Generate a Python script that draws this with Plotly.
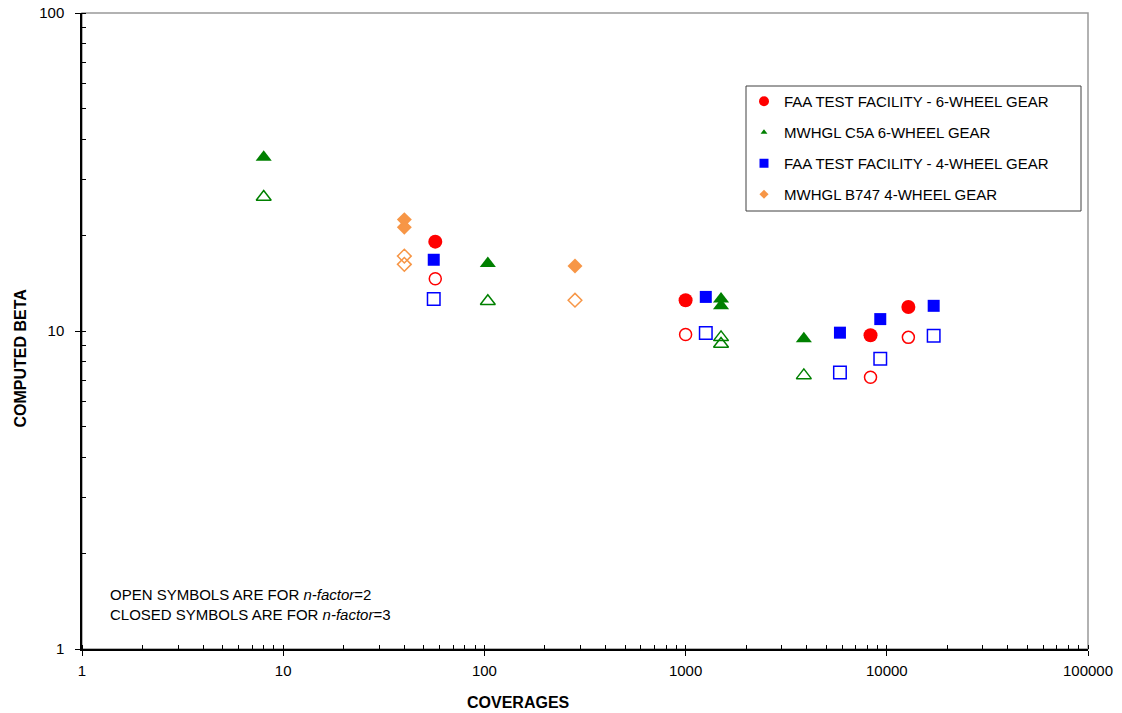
import plotly.graph_objects as go

# ---------------- data ----------------
# FAA Test Facility - 6-wheel gear
faa6_x_closed = [57, 1000, 8300, 12800]
faa6_y_closed = [19.1, 12.5, 9.7, 11.9]
faa6_x_open = [57, 1000, 8300, 12800]
faa6_y_open = [14.6, 9.75, 7.15, 9.55]

# MWHGL C5A 6-wheel gear
c5a_x_closed = [8, 104, 1500, 1500, 3870]
c5a_y_closed = [35.2, 16.3, 12.6, 12.0, 9.45]
c5a_x_open = [8, 104, 1500, 1500, 3870]
c5a_y_open = [26.4, 12.4, 9.55, 9.1, 7.25]

# FAA Test Facility - 4-wheel gear
faa4_x_closed = [56, 1260, 5850, 9280, 17100]
faa4_y_closed = [16.75, 12.8, 9.88, 10.9, 12.0]
faa4_x_open = [56, 1260, 5850, 9280, 17100]
faa4_y_open = [12.6, 9.85, 7.4, 8.18, 9.66]

# MWHGL B747 4-wheel gear
b747_x_closed = [40, 40, 282]
b747_y_closed = [22.4, 21.2, 16.0]
b747_x_open = [40, 40, 282]
b747_y_open = [17.2, 16.2, 12.5]

legend_names = [
    "FAA TEST FACILITY - 6-WHEEL GEAR",
    "MWHGL C5A 6-WHEEL GEAR",
    "FAA TEST FACILITY - 4-WHEEL GEAR",
    "MWHGL B747 4-WHEEL GEAR",
]

x_tickvals = [1, 10, 100, 1000, 10000, 100000]
x_ticktext = ["1", "10", "100", "1000", "10000", "100000"]
y_tickvals = [1, 10, 100]
y_ticktext = ["1", "10", "100"]

RED = "#FF0000"
GREEN = "#008000"
BLUE = "#0000FF"
ORANGE = "#F79646"

fig = go.Figure()

def add_pair(xc, yc, xo, yo, sym, color, size_c, size_o):
    fig.add_trace(go.Scatter(
        x=xo, y=yo, mode="markers", showlegend=False,
        marker=dict(symbol=sym + "-open", size=size_o, color=color,
                    line=dict(color=color, width=1.5)),
        hoverinfo="x+y"))
    fig.add_trace(go.Scatter(
        x=xc, y=yc, mode="markers", showlegend=False,
        marker=dict(symbol=sym, size=size_c, color=color, line=dict(width=0)),
        hoverinfo="x+y"))

add_pair(c5a_x_closed, c5a_y_closed, c5a_x_open, c5a_y_open, "triangle-up", GREEN, 14, 13)
add_pair(b747_x_closed, b747_y_closed, b747_x_open, b747_y_open, "diamond", ORANGE, 11.5, 10.5)
add_pair(faa4_x_closed, faa4_y_closed, faa4_x_open, faa4_y_open, "square", BLUE, 12, 12.5)
add_pair(faa6_x_closed, faa6_y_closed, faa6_x_open, faa6_y_open, "circle", RED, 14, 12)

# legend-only entries (small symbols, as in the reference)
leg_specs = [("circle", RED, 10), ("triangle-up", GREEN, 6), ("square", BLUE, 9), ("diamond", ORANGE, 7)]
for i, (name, (sym, col, sz)) in enumerate(zip(legend_names, leg_specs)):
    fig.add_trace(go.Scatter(
        x=[None], y=[None], mode="markers", name=name, legendgroup=f"g{i}",
        marker=dict(symbol=sym, size=sz, color=col, line=dict(width=0)),
        legendrank=i + 1))

font_family = "Liberation Sans, Arial, sans-serif"

W_PLOT = 1006
H_PLOT = 636
def px_x(p):
    return (p - 82) / W_PLOT
def px_y(p):
    return (649 - p) / H_PLOT

fig.update_layout(
    width=1122, height=713,
    margin=dict(l=82, r=34, t=13, b=64, autoexpand=False),
    paper_bgcolor="white", plot_bgcolor="white",
    font=dict(family=font_family, size=15, color="black"),
    showlegend=True,
    legend=dict(
        x=px_x(744), y=px_y(85), xanchor="left", yanchor="top",
        bgcolor="rgba(0,0,0,0)", borderwidth=0,
        font=dict(family=font_family, size=15, color="black"),
        traceorder="grouped", tracegroupgap=8.5, itemwidth=30,
    ),
    xaxis=dict(
        type="log", range=[0, 5], showgrid=False, zeroline=False,
        showline=True, linecolor="black", linewidth=1.5,
        tickmode="array", tickvals=x_tickvals, ticktext=x_ticktext,
        ticks="outside", ticklen=5, tickcolor="black", tickwidth=1,
        ticklabelstandoff=2,
        tickfont=dict(family=font_family, size=15, color="black"),
        minor=dict(ticks="inside", ticklen=4, tickcolor="black", dtick="D1", showgrid=False),
    ),
    yaxis=dict(
        type="log", range=[0, 2], showgrid=False, zeroline=False,
        showline=True, linecolor="black", linewidth=1.5,
        tickmode="array", tickvals=y_tickvals, ticktext=y_ticktext,
        ticks="outside", ticklen=5, tickcolor="black", tickwidth=1,
        ticklabelstandoff=8,
        tickfont=dict(family=font_family, size=15, color="black"),
        minor=dict(ticks="inside", ticklen=4, tickcolor="black", dtick="D1", showgrid=False),
    ),
    shapes=[
        dict(type="rect", xref="paper", yref="paper", x0=0, x1=1, y0=0, y1=1,
             line=dict(color="#999999", width=1.5), layer="below"),
        # legend frame
        dict(type="rect", xref="paper", yref="paper",
             x0=px_x(746), x1=px_x(1081), y0=px_y(211), y1=px_y(86),
             line=dict(color="#404040", width=1), fillcolor="white", layer="above"),
    ],
    annotations=[
        dict(text="<b>COVERAGES</b>", xref="paper", yref="paper",
             x=px_x(518.5), y=px_y(702.5), xanchor="center", yanchor="middle",
             showarrow=False, font=dict(family=font_family, size=16, color="black")),
        dict(text="<b>COMPUTED BETA</b>", xref="paper", yref="paper", textangle=-90,
             x=px_x(20), y=px_y(358.5), xanchor="center", yanchor="middle",
             showarrow=False, font=dict(family=font_family, size=16, color="black")),
        dict(text="OPEN SYMBOLS ARE FOR <i>n-factor</i>=2<br>CLOSED SYMBOLS ARE FOR <i>n-factor</i>=3",
             xref="paper", yref="paper", x=px_x(108), y=px_y(604),
             xanchor="left", yanchor="middle", align="left", showarrow=False,
             font=dict(family=font_family, size=15, color="black")),
    ],
)

fig.write_html("out.html")
